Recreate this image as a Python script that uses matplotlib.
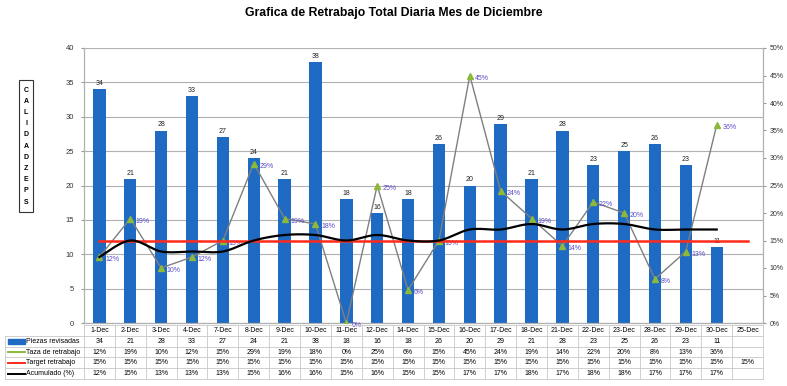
import numpy as np
import matplotlib.pyplot as plt
from matplotlib.patches import Rectangle

plt.rcParams['font.family'] = ['Liberation Sans', 'DejaVu Sans']

dias = ['1-Dec', '2-Dec', '3-Dec', '4-Dec', '7-Dec', '8-Dec', '9-Dec', '10-Dec',
        '11-Dec', '12-Dec', '14-Dec', '15-Dec', '16-Dec', '17-Dec', '18-Dec',
        '21-Dec', '22-Dec', '23-Dec', '28-Dec', '29-Dec', '30-Dec', '25-Dec']
piezas = [34, 21, 28, 33, 27, 24, 21, 38, 18, 16, 18, 26, 20, 29, 21, 28, 23, 25, 26, 23, 11]
taza = [12, 19, 10, 12, 15, 29, 19, 18, 0, 25, 6, 15, 45, 24, 19, 14, 22, 20, 8, 13, 36]
target = [15] * 22
acumulado = [12, 15, 13, 13, 13, 15, 16, 16, 15, 16, 15, 15, 17, 17, 18, 17, 18, 18, 17, 17, 17]

azul = '#1F6BC4'
verde = '#8DB83A'
gris = '#7F7F7F'
violeta = '#5B4BC8'


def suave(xs, ys, n=12):
    # catmull-rom para la linea suavizada
    xs = np.asarray(xs, float)
    ys = np.asarray(ys, float)
    px = np.concatenate([[xs[0]], xs, [xs[-1]]])
    py = np.concatenate([[ys[0]], ys, [ys[-1]]])
    ox, oy = [], []
    t = np.linspace(0, 1, n, endpoint=False)
    for i in range(1, len(px) - 2):
        for arr, out in ((px, ox), (py, oy)):
            p0, p1, p2, p3 = arr[i - 1], arr[i], arr[i + 1], arr[i + 2]
            out.extend(0.5 * (2 * p1 + (-p0 + p2) * t + (2 * p0 - 5 * p1 + 4 * p2 - p3) * t ** 2
                              + (-p0 + 3 * p1 - 3 * p2 + p3) * t ** 3))
    ox.append(xs[-1])
    oy.append(ys[-1])
    return np.array(ox), np.array(oy)


W, H = 787, 386
fig = plt.figure(figsize=(W / 100, H / 100), dpi=100)
L, R, T, B = 84, 763, 48, 323
ax = fig.add_axes([L / W, 1 - B / H, (R - L) / W, (B - T) / H])
ax2 = ax.twinx()

n = len(dias)
x = np.arange(n)
ax.set_xlim(-0.5, n - 0.5)
ax.set_ylim(0, 40)
ax2.set_ylim(0, 0.5)

ax.set_axisbelow(True)
ax.yaxis.grid(True, color='#B0B0B0', lw=0.8)
ax.set_yticks(range(0, 41, 5))
ax2.set_yticks(np.arange(0, 0.51, 0.05))
ax2.set_yticklabels([f'{v:.0f}%' for v in np.arange(0, 51, 5)])
ax.set_xticks([])
for a in (ax, ax2):
    a.tick_params(axis='y', labelsize=5.5, length=2, color='#999999', labelcolor='#333333', pad=5)
    for s in a.spines.values():
        s.set_color('#B0B0B0')
        s.set_linewidth(0.8)
    a.spines['top'].set_visible(False)
ax2.tick_params(axis='y', labelsize=5, pad=3)

xb = x[:len(piezas)]
ax.bar(xb, piezas, width=0.4, color=azul, zorder=2)
for xi, v in zip(xb, piezas):
    ax.text(xi, v + 0.3, str(v), ha='center', va='bottom', fontsize=5, color='#222222')

tz = np.array(taza) / 100
ax2.plot(x[:len(taza)], tz, color=gris, lw=1.0, marker='^', ms=4,
         mfc=verde, mec=verde, zorder=3)
for xi, v in zip(x[:len(taza)], taza):
    ax2.annotate(f'{v}%', (xi, v / 100), xytext=(4, -2), textcoords='offset points',
                 fontsize=5, color=violeta, va='center', ha='left')

ax2.plot(x, np.array(target) / 100, color='#FF2A1A', lw=1.8, zorder=4)
sx, sy = suave(x[:len(acumulado)], np.array(acumulado) / 100)
ax2.plot(sx, sy, color='black', lw=1.6, zorder=5)

# capa en pixeles para titulo, etiqueta vertical y tabla
ov = fig.add_axes([0, 0, 1, 1])
ov.set_xlim(0, W)
ov.set_ylim(H, 0)
ov.axis('off')
ov.patch.set_alpha(0)

fig.text(0.5, 1 - 13 / H, 'Grafica de Retrabajo Total Diaria Mes de Diciembre',
         ha='center', va='center', fontsize=8.8, fontweight='bold')

ov.add_patch(Rectangle((19, 80), 14, 132, fill=False, ec='#333333', lw=0.8))
letras = 'CALIDADZEPS'
for i, c in enumerate(letras):
    ov.text(26, 90 + i * 11.2, c, ha='center', va='center', fontsize=5, fontweight='bold')

# tabla de datos
cw = (R - L) / n
rh = 10.8
y0 = 325
borde = '#C8C8C8'
filas = [
    ('Piezas revisadas', [str(v) for v in piezas], 'bar', azul),
    ('Taza de retrabajo', [f'{v}%' for v in taza], 'line', verde),
    ('Target retrabajo', [f'{v}%' for v in target], 'line', '#FF2A1A'),
    ('Acumulado (%)', [f'{v}%' for v in acumulado], 'line', 'black'),
]

for i, d in enumerate(dias):
    ov.text(L + (i + 0.5) * cw, y0 + rh / 2, d, ha='center', va='center', fontsize=5)
for i in range(n + 1):
    ov.plot([L + i * cw] * 2, [y0, y0 + rh * 5], color=borde, lw=0.6)
ov.plot([L, R], [y0, y0], color=borde, lw=0.6)
for j in range(1, 6):
    ov.plot([5, R], [y0 + j * rh] * 2, color=borde, lw=0.6)
ov.plot([5, 5], [y0 + rh, y0 + 5 * rh], color=borde, lw=0.6)

for j, (nombre, vals, tipo, col) in enumerate(filas):
    yc = y0 + (j + 1.5) * rh
    if tipo == 'bar':
        ov.add_patch(Rectangle((8, yc - 2.5), 17, 5, color=col))
    else:
        ov.plot([8, 25], [yc, yc], color=col, lw=1.4)
    ov.text(26, yc, nombre, ha='left', va='center', fontsize=5)
    for i, v in enumerate(vals):
        ov.text(L + (i + 0.5) * cw, yc, v, ha='center', va='center', fontsize=5)

fig.savefig('out.png', dpi=100)
